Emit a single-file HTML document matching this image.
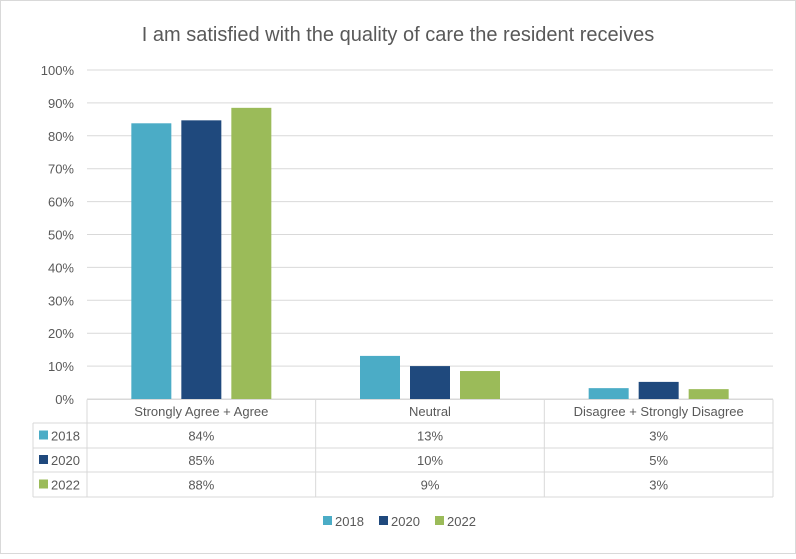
<!DOCTYPE html>
<html><head><meta charset="utf-8"><style>
body{margin:0;background:#fff}
svg text{font-family:"Liberation Sans",sans-serif;fill:#595959}
</style></head><body>
<svg width="796" height="554" xmlns="http://www.w3.org/2000/svg">
<rect x="0.5" y="0.5" width="795" height="553" fill="#fff" stroke="#d9d9d9"/>
<text x="398" y="41" text-anchor="middle" font-size="20">I am satisfied with the quality of care the resident receives</text>
<g id="grid"></g><g id="bars"></g><g id="table"></g><g id="legend"></g>
</svg>
<script>
const categories=["Strongly Agree + Agree","Neutral","Disagree + Strongly Disagree"];
const seriesNames=["2018","2020","2022"];
const v2018=[83.8,13.1,3.3];
const v2020=[84.7,10.0,5.2];
const v2022=[88.5,8.5,3.0];
const labels2018=["84%","13%","3%"];
const labels2020=["85%","10%","5%"];
const labels2022=["88%","9%","3%"];
const yTicks=[0,10,20,30,40,50,60,70,80,90,100];
const colors=["#4bacc6","#1f497d","#9bbb59"];
const series=[v2018,v2020,v2022], labs=[labels2018,labels2020,labels2022];
const NS="http://www.w3.org/2000/svg";
const X0=87,X1=773,Y0=399,Y1=70;
const y=v=>Y0-(Y0-Y1)*v/100;
const cw=(X1-X0)/categories.length;
function mk(t,a,p){const e=document.createElementNS(NS,t);for(const k in a)e.setAttribute(k,a[k]);p.appendChild(e);return e;}
const g=document.getElementById('grid');
yTicks.forEach(t=>{
 const l=mk('line',{x1:X0,x2:X1,y1:y(t),y2:y(t),stroke:'#d9d9d9'},g);
 
 
 const tx=mk('text',{x:74,y:y(t)+5,'text-anchor':'end','font-size':13},g);tx.textContent=t+'%';
 
 
});
const b=document.getElementById('bars');
categories.forEach((c,i)=>{
 const cx=X0+cw*(i+0.5);
 series.forEach((s,j)=>{
  const bx=cx-70+j*50;
  const r=mk('rect',{x:bx,y:y(s[i]),width:40,height:Y0-y(s[i]),fill:colors[j]},b);
  
  
 });
});
const tb=document.getElementById('table');
const rows=[399.5,423,448,472,497];
mk('line',{x1:X0,x2:X1,y1:rows[0],y2:rows[0],stroke:'#d9d9d9'},tb);
for(let r=1;r<rows.length;r++)mk('line',{x1:33,x2:X1,y1:rows[r],y2:rows[r],stroke:'#d9d9d9'},tb);
mk('line',{x1:33,x2:33,y1:rows[1],y2:rows[4],stroke:'#d9d9d9'},tb);
for(let k=0;k<=3;k++)mk('line',{x1:X0+cw*k,x2:X0+cw*k,y1:rows[0],y2:rows[4],stroke:'#d9d9d9'},tb);
categories.forEach((c,i)=>{
 const t=mk('text',{x:X0+cw*(i+0.5),y:416,'text-anchor':'middle','font-size':13},tb);t.textContent=c;
 
 
});
seriesNames.forEach((n,j)=>{
 const ry=(rows[j+1]+rows[j+2])/2;
 mk('rect',{x:39,y:ry-5,width:9,height:9,fill:colors[j]},tb);
 const t=mk('text',{x:51,y:ry+5,'font-size':13},tb);t.textContent=n;
 
 
 labs[j].forEach((lv,i)=>{
  const c=mk('text',{x:X0+cw*(i+0.5),y:ry+5,'text-anchor':'middle','font-size':13},tb);c.textContent=lv;
  
  
 });
});
const lg=document.getElementById('legend');
seriesNames.forEach((n,j)=>{
 const lx=323+j*56;
 const r=mk('rect',{x:lx,y:516,width:9,height:9,fill:colors[j]},lg);
 
 
 const t=mk('text',{x:lx+12,y:526,'font-size':13},lg);t.textContent=n;
 
 
});
</script>
</body></html>
